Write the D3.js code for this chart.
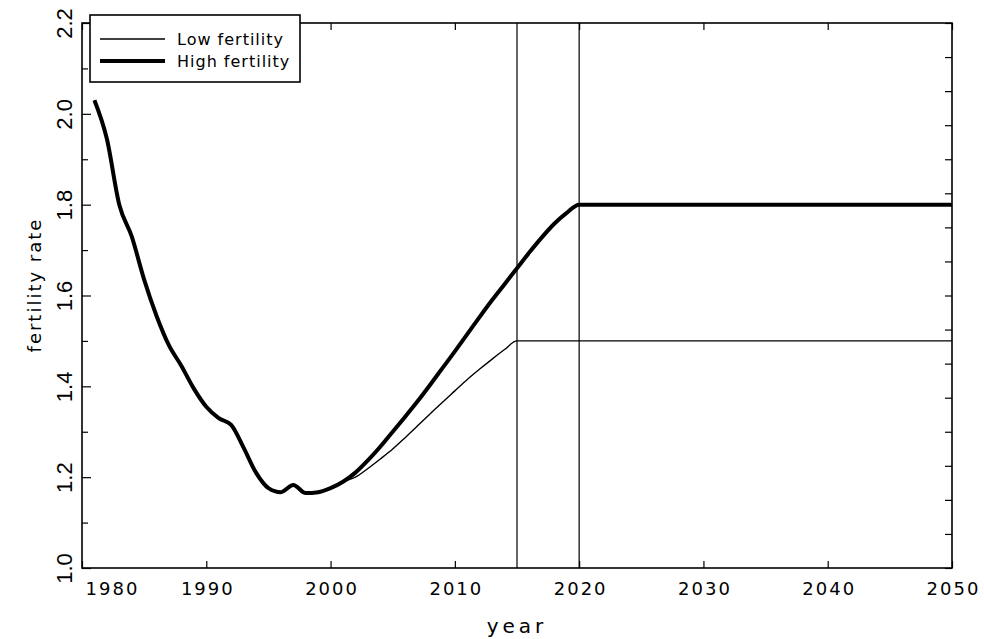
<!DOCTYPE html>
<html>
<head>
<meta charset="utf-8">
<script src="https://cdn.jsdelivr.net/npm/d3@7"></script>
<style>
  body { margin: 0; background: #fff; }
  svg { display: block; }
  text { fill: #000; font-family: "DejaVu Sans", sans-serif; }
</style>
</head>
<body>
<svg width="984" height="639"></svg>
<script>
// values
var years = [1981,1982,1983,1984,1985,1986,1987,1988,1989,1990,
             1991,1992,1993,1994,1995,1996,1997,1998,1999,2000,
             2001,2002,2003,2004,2005,2006,2007,2008,2009,2010,
             2011,2012,2013,2014,2015,2016,2017,2018,2019,2020,2050];
var highFertility = [2.03,1.945,1.80,1.73,1.635,1.555,1.49,1.445,1.395,1.355,
                     1.33,1.315,1.265,1.21,1.176,1.167,1.183,1.165,1.167,1.176,
                     1.19,1.21,1.237,1.267,1.30,1.333,1.367,1.403,1.44,1.477,
                     1.515,1.553,1.59,1.625,1.66,1.695,1.728,1.758,1.782,1.80,1.80];
var lowYears = [1981,1982,1983,1984,1985,1986,1987,1988,1989,1990,
                1991,1992,1993,1994,1995,1996,1997,1998,1999,2000,
                2001,2002,2003,2004,2005,2006,2007,2008,2009,2010,
                2011,2012,2013,2014,2015,2050];
var lowFertility = [2.03,1.945,1.80,1.73,1.635,1.555,1.49,1.445,1.395,1.355,
                    1.33,1.315,1.265,1.21,1.176,1.167,1.183,1.165,1.167,1.176,
                    1.19,1.20,1.219,1.24,1.262,1.287,1.313,1.339,1.365,1.39,
                    1.415,1.438,1.46,1.481,1.50,1.50];
var xTicks = [1980,1990,2000,2010,2020,2030,2040,2050];
var yTicks = [1.0,1.2,1.4,1.6,1.8,2.0,2.2];
var yMinor = [1.1,1.3,1.5,1.7,1.9,2.1];
var rightTicks = d3.range(0, 17).map(function(i) { return 1 + i * 0.075; });
var markerYears = [2015, 2020];
var seriesNames = ["Low fertility", "High fertility"];

var svg = d3.select("svg"),
    pLeft = 82, pRight = 952, pTop = 23, pBottom = 568;

var x = d3.scaleLinear().domain([1980, 2050]).range([pLeft, pRight]);
var y = d3.scaleLinear().domain([1.0, 2.2]).range([pBottom, pTop]);

var low = lowYears.map(function(d, i) { return [d, lowFertility[i]]; });
var high = years.map(function(d, i) { return [d, highFertility[i]]; });

var line = d3.line()
    .curve(d3.curveMonotoneX)
    .x(function(d) { return x(d[0]); })
    .y(function(d) { return y(d[1]); });

// ticks, all pointing inward
function ticksOnly(axis, g) {
    g.call(axis);
    g.select(".domain").remove();
    g.selectAll("line").attr("stroke", "#000").attr("stroke-width", 1.2);
}

var bottomAxis = svg.append("g").attr("transform", "translate(0," + pBottom + ")");
ticksOnly(d3.axisBottom(x).tickValues(xTicks).tickSize(-7).tickPadding(14).tickFormat(d3.format("d")), bottomAxis);
bottomAxis.selectAll("text")
    .style("font-size", "18px")
    .style("letter-spacing", "2px")
    .attr("dx", function(d) { return d == 1980 ? 30 : 1; });

ticksOnly(d3.axisTop(x).tickValues(xTicks).tickSize(-7).tickFormat(""),
    svg.append("g").attr("transform", "translate(0," + pTop + ")"));

var leftAxis = svg.append("g").attr("transform", "translate(" + pLeft + ",0)");
ticksOnly(d3.axisLeft(y).tickValues(yTicks).tickSize(-9).tickFormat(d3.format(".1f")), leftAxis);
leftAxis.selectAll("text")
    .attr("x", 0).attr("y", 0).attr("dy", null)
    .attr("text-anchor", "middle")
    .attr("transform", "translate(-10,0) rotate(-90)")
    .style("font-family", "'Liberation Sans', sans-serif")
    .style("font-size", "22px");

ticksOnly(d3.axisLeft(y).tickValues(yMinor).tickSize(-6).tickFormat(""),
    svg.append("g").attr("transform", "translate(" + pLeft + ",0)"));

ticksOnly(d3.axisRight(y).tickValues(rightTicks).tickSize(-7).tickFormat(""),
    svg.append("g").attr("transform", "translate(" + pRight + ",0)"));

// frame
svg.append("rect")
    .attr("x", pLeft).attr("y", pTop)
    .attr("width", pRight - pLeft).attr("height", pBottom - pTop)
    .attr("fill", "none").attr("stroke", "#000").attr("stroke-width", 1.6);

// vertical markers
svg.selectAll(".marker")
    .data(markerYears)
    .join("line")
    .attr("class", "marker")
    .attr("x1", function(d) { return x(d); })
    .attr("x2", function(d) { return x(d); })
    .attr("y1", pTop).attr("y2", pBottom)
    .attr("stroke", "#000").attr("stroke-width", 1.2);

svg.append("path")
    .datum(low)
    .attr("d", line)
    .attr("fill", "none").attr("stroke", "#000")
    .attr("stroke-width", 1.4).attr("stroke-linejoin", "round");

svg.append("path")
    .datum(high)
    .attr("d", line)
    .attr("fill", "none").attr("stroke", "#000")
    .attr("stroke-width", 4).attr("stroke-linejoin", "round");

// axis titles
svg.append("text")
    .attr("x", (pLeft + pRight) / 2).attr("y", 633)
    .attr("text-anchor", "middle")
    .style("font-size", "20px").style("letter-spacing", "4px")
    .text("year");

svg.append("text")
    .attr("transform", "translate(41,285) rotate(-90)")
    .attr("text-anchor", "middle")
    .style("font-size", "18px").style("letter-spacing", "2px")
    .text("fertility rate");

// legend
var legend = svg.append("g");
legend.append("rect")
    .attr("x", 90).attr("y", 15).attr("width", 210).attr("height", 67)
    .attr("fill", "#fff").attr("stroke", "#000").attr("stroke-width", 1.6);

var items = legend.selectAll(".item")
    .data(seriesNames)
    .join("g")
    .attr("class", "item")
    .attr("transform", function(d, i) { return "translate(0," + (39 + i * 22) + ")"; });

items.append("line")
    .attr("x1", 100).attr("x2", 165)
    .attr("stroke", "#000")
    .attr("stroke-width", function(d, i) { return i == 0 ? 1.4 : 4; });

items.append("text")
    .attr("x", 177).attr("y", 6)
    .style("font-size", "16px").style("letter-spacing", "1px")
    .text(function(d) { return d; });
</script>
</body>
</html>
